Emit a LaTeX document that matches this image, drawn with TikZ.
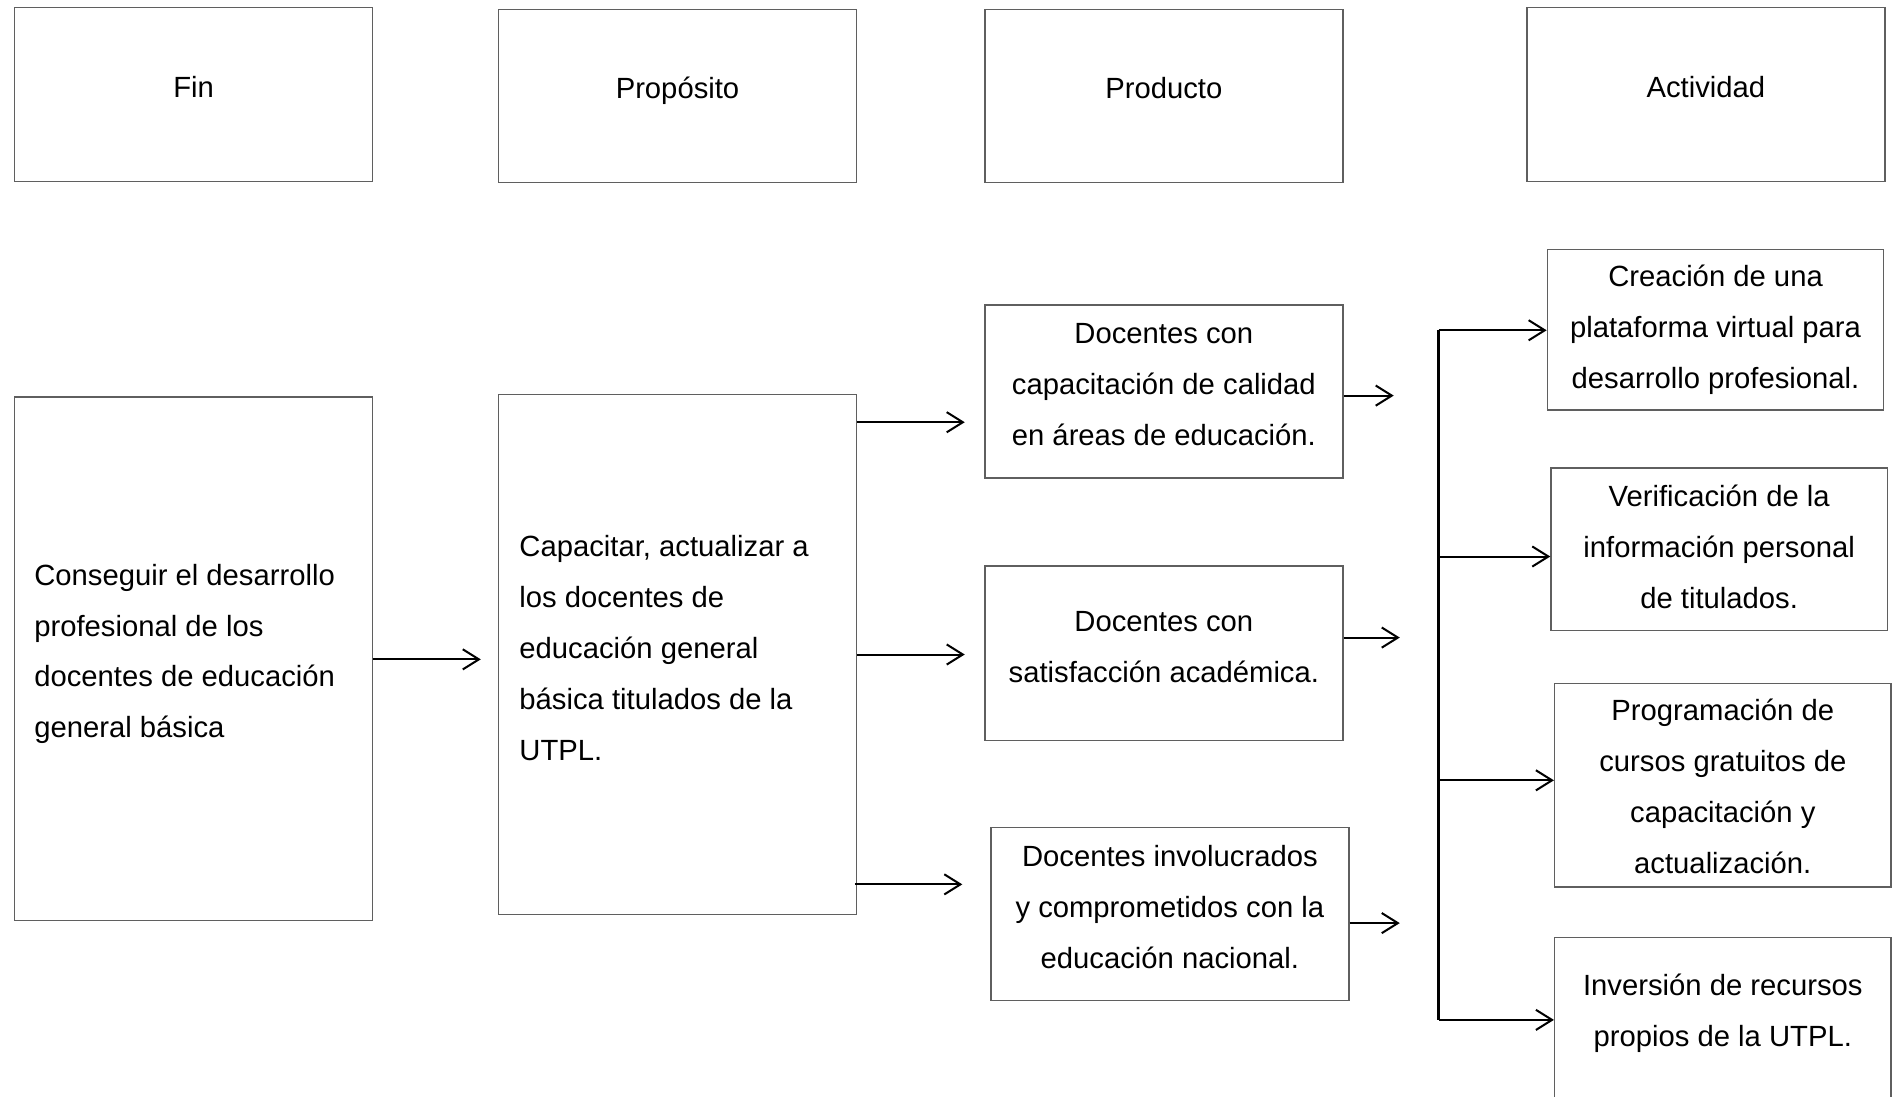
\documentclass[tikz,border=0pt]{standalone}
\usepackage{fontspec}
\setmainfont{Liberation Sans}
\usetikzlibrary{arrows.meta}
\definecolor{boxgray}{RGB}{95,95,95}
\newcommand\fsz{\fontsize{14.5pt}{25.2pt}\selectfont}
\begin{document}
\begin{tikzpicture}[x=0.6pt,y=-0.6pt,
  box/.style={draw=boxgray, line width=0.7pt, inner sep=0pt, fill=none},
  txt/.style={font=\fsz, align=center, inner sep=0pt, yshift=-1.4pt},
  ltxt/.style={font=\fsz, align=left, inner sep=0pt, anchor=west, yshift=-1.4pt},
  conn/.style={draw=black, line width=1pt},
  arr/.style={conn, -{Straight Barb[length=8pt,width=10pt,line width=1pt]}}]
\useasboundingbox (0,0) rectangle (1568,906);
\clip (0,0) rectangle (1568,906);

% header boxes
\node[box, minimum width=177.6pt, minimum height=86.4pt] (hfin) at (160,78) {};
\node[box, minimum width=177.6pt, minimum height=85.8pt] (hprop) at (560,79.5) {};
\node[box, minimum width=177.6pt, minimum height=85.8pt] (hprod) at (962,79.5) {};
\node[box, minimum width=177.6pt, minimum height=86.4pt] (hact) at (1410,78) {};
\node[txt] (hfin-t) at (160,70) {\strut Fin};
\node[txt] (hprop-t) at (560,71) {\strut Propósito};
\node[txt] (hprod-t) at (962,71) {\strut Producto};
\node[txt] (hact-t) at (1410,70) {\strut Actividad};

% fin and proposito
\node[box, minimum width=177.6pt, minimum height=259.8pt] (fin) at (160,544.5) {};
\node[ltxt] (fin-t) at (28,536) {\strut Conseguir el desarrollo\\\strut profesional de los\\\strut docentes de educación\\\strut general básica};
\node[box, minimum width=177.6pt, minimum height=258pt] (prop) at (560,541) {};
\node[ltxt] (prop-t) at (429,533.5) {\strut Capacitar, actualizar a\\\strut los docentes de\\\strut educación general\\\strut básica titulados de la\\\strut UTPL.};

% productos
\node[box, minimum width=177.6pt, minimum height=85.8pt] (p1) at (962,323.5) {};
\node[txt] (p1-t) at (962,315.5) {\strut Docentes con\\\strut capacitación de calidad\\\strut en áreas de educación.};
\node[box, minimum width=177.6pt, minimum height=86.4pt] (p2) at (962,540) {};
\node[txt] (p2-t) at (962,532) {\strut Docentes con\\\strut satisfacción académica.};
\node[box, minimum width=177.6pt, minimum height=85.8pt] (p3) at (967,755.5) {};
\node[txt] (p3-t) at (967,747.5) {\strut Docentes involucrados\\\strut y comprometidos con la\\\strut educación nacional.};

% actividades
\node[box, minimum width=166.8pt, minimum height=79.8pt] (a1) at (1418,272.5) {};
\node[txt] (a1-t) at (1418,268) {\strut Creación de una\\\strut plataforma virtual para\\\strut desarrollo profesional.};
\node[box, minimum width=166.8pt, minimum height=80.4pt] (a2) at (1421,454) {};
\node[txt] (a2-t) at (1421,450) {\strut Verificación de la\\\strut información personal\\\strut de titulados.};
\node[box, minimum width=166.8pt, minimum height=100.8pt] (a3) at (1424,649) {};
\node[txt] (a3-t) at (1424,648) {\strut Programación de\\\strut cursos gratuitos de\\\strut capacitación y\\\strut actualización.};
\node[box, minimum width=166.8pt, minimum height=87pt] (a4) at (1424,847.5) {};
\node[txt] (a4-t) at (1424,833) {\strut Inversión de recursos\\\strut propios de la UTPL.};

% level coordinates
\coordinate (yA) at (0,545);
\coordinate (yB1) at (0,349);
\coordinate (yB2) at (0,541);
\coordinate (yB3) at (0,731);
\coordinate (e1) at (1152,327);
\coordinate (e2) at (1157,527);
\coordinate (e3) at (1157,763);
\coordinate (t1) at (1189,273);
\coordinate (t2) at (1189,460);
\coordinate (t3) at (1189,645);
\coordinate (t4) at (1189,843);

% connectors
\draw[arr, shorten >=8.4pt] (fin.east |- yA) -- (prop.west |- yA);
\draw[arr, shorten >=9.6pt] (prop.east |- yB1) -- (p1.west |- yB1);
\draw[arr, shorten >=9.6pt] (prop.east |- yB2) -- (p2.west |- yB2);
\draw[arr, shorten >=13.8pt] ([xshift=-1.2pt]prop.east |- yB3) -- (p3.west |- yB3);
\draw[arr] (p1.east |- e1) -- (e1);
\draw[arr] (p2.east |- e2) -- (e2);
\draw[arr] (p3.east |- e3) -- (e3);
\draw[conn] (t1) -- (t4);
\draw[arr] (t1) -- (a1.west |- t1);
\draw[arr] (t2) -- (a2.west |- t2);
\draw[arr] (t3) -- (a3.west |- t3);
\draw[arr] (t4) -- (a4.west |- t4);
\end{tikzpicture}
\end{document}
